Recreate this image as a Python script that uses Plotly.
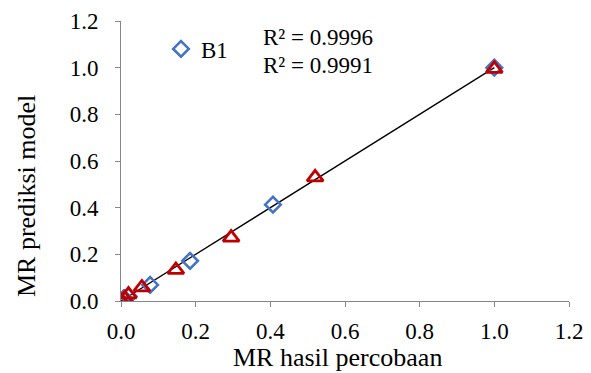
import plotly.graph_objects as go

# Data
b1_x = [0.0, 0.008, 0.02, 0.078, 0.185, 0.407, 1.0]
b1_y = [0.0, 0.012, 0.02, 0.069, 0.172, 0.413, 1.0]
b2_x = [0.0, 0.01, 0.02, 0.056, 0.147, 0.295, 0.52, 1.0]
b2_y = [0.0, 0.01, 0.028, 0.058, 0.133, 0.272, 0.53, 0.995]
trend_x = [0.0, 1.0]
trend_y = [0.0, 1.0]
r2_labels = ["R² = 0.9996", "R² = 0.9991"]
x_title = "MR hasil percobaan"
y_title = "MR prediksi model"
tick_vals = [0.0, 0.2, 0.4, 0.6, 0.8, 1.0, 1.2]
tick_text = ["0.0", "0.2", "0.4", "0.6", "0.8", "1.0", "1.2"]

FONT = "Liberation Serif"
OFF = 8  # page offset of the figure
W, H = 591, 373
L, R, T, B = 113, 30, 13, 80
PW, PH = W - L - R, H - T - B


def px(xp):
    return (xp - OFF - L) / PW


def py(yp):
    return (H - B - (yp - OFF)) / PH


fig = go.Figure()
fig.add_trace(go.Scatter(x=trend_x, y=trend_y, mode="lines",
                         line=dict(color="black", width=1.3), showlegend=False, hoverinfo="skip"))
fig.add_trace(go.Scatter(x=b1_x, y=b1_y, mode="markers", name="B1",
                         marker=dict(symbol="diamond-open", size=12, color="#4472C4",
                                     line=dict(width=2.6, color="#4472C4"))))
fig.add_trace(go.Scatter(x=b2_x, y=b2_y, mode="markers", name="B2", showlegend=False,
                         marker=dict(symbol="triangle-up-open", size=14, color="#C00000",
                                     line=dict(width=2.8, color="#C00000"))))

for i, t in enumerate(r2_labels):
    fig.add_annotation(x=px(263), y=py([37, 66][i]), xref="paper", yref="paper", text=t,
                       showarrow=False, xanchor="left", yanchor="middle", xshift=-2,
                       font=dict(family=FONT, size=23, color="black"))

fig.add_annotation(x=px(337), y=py(357), xref="paper", yref="paper", text=x_title,
                   showarrow=False, xanchor="center", yanchor="middle",
                   font=dict(family=FONT, size=26, color="black"))
fig.add_annotation(x=px(26), y=py(196), xref="paper", yref="paper", text=y_title,
                   showarrow=False, xanchor="center", yanchor="middle", textangle=-90,
                   font=dict(family=FONT, size=26, color="black"))

axis_common = dict(range=[0, 1.2], tickvals=tick_vals, ticktext=tick_text, automargin=False,
                   showgrid=False, zeroline=False, showline=True, linecolor="#868686",
                   linewidth=1, ticks="outside", ticklen=5, tickcolor="#868686",
                   ticklabeloverflow="allow",
                   tickfont=dict(family=FONT, size=23, color="black"))
fig.update_layout(
    width=W, height=H, margin=dict(l=L, r=R, t=T, b=B),
    paper_bgcolor="white", plot_bgcolor="white",
    xaxis=dict(**axis_common, ticklabelstandoff=4),
    yaxis=dict(**axis_common, ticklabelstandoff=12),
    legend=dict(x=px(161), y=py(49), xanchor="left", yanchor="middle",
                bgcolor="rgba(0,0,0,0)", font=dict(family=FONT, size=23, color="black")),
    showlegend=True,
)
fig.write_html("out.html")
